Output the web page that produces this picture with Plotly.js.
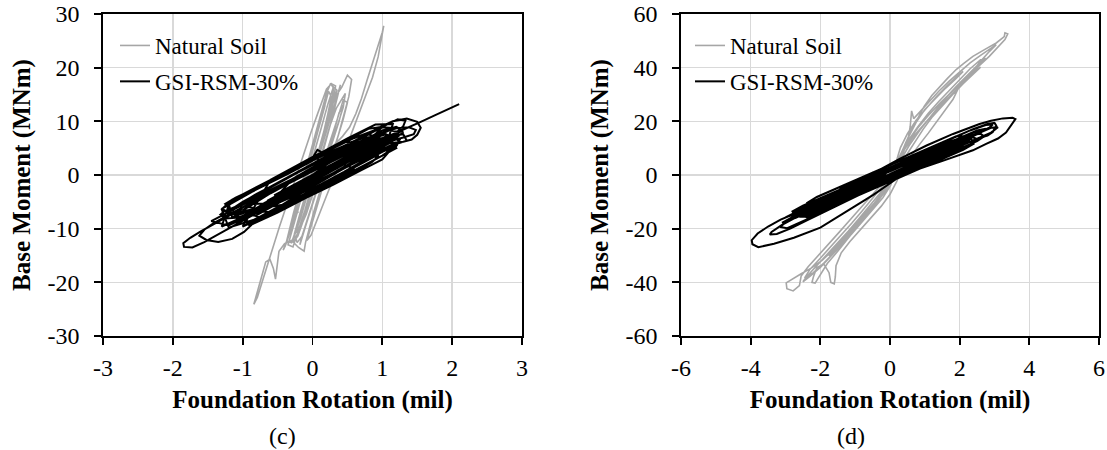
<!DOCTYPE html>
<html>
<head>
<meta charset="utf-8">
<script src="https://cdn.plot.ly/plotly-3.0.1.min.js"></script>
<style>
  html, body { margin: 0; padding: 0; background: #ffffff; }
  #chart { width: 1107px; height: 450px; }
</style>
</head>
<body>
<div id="chart"></div>
<script>
// ---------- Data (rotation in mil, moment in MNm) ----------
const seriesNames = ["Natural Soil", "GSI-RSM-30%"];
const panelLabels = ["(c)", "(d)"];

// Tick values and labels (hyphen minus as in the original)
const cRotTicks = [-3, -2, -1, 0, 1, 2, 3];
const cRotLabels = ["-3", "-2", "-1", "0", "1", "2", "3"];
const cMomTicks = [-30, -20, -10, 0, 10, 20, 30];
const cMomLabels = ["-30", "-20", "-10", "0", "10", "20", "30"];
const dRotTicks = [-6, -4, -2, 0, 2, 4, 6];
const dRotLabels = ["-6", "-4", "-2", "0", "2", "4", "6"];
const dMomTicks = [-60, -40, -20, 0, 20, 40, 60];
const dMomLabels = ["-60", "-40", "-20", "0", "20", "40", "60"];

// Panel (c) – Natural Soil: [rotation, moment]
const cNatural = [
[0,0],[0.08,3.5],[0.15,7.0],[0.22,10.5],[0.28,13.8],[0.3,16.2],[0.26,17.1],[0.2,15.2],[0.13,11.8],[0.05,8.0],[-0.03,4.2],[-0.11,0.4],[-0.19,-3.4],[-0.27,-7.0],[-0.33,-10.2],[-0.37,-12.3],[-0.3,-12.6],[-0.22,-9.6],[-0.14,-6.0],[-0.06,-2.3],[0.02,1.5],[0.1,5.2],[0.18,8.8],[0.26,12.2],[0.34,14.8],[0.42,16.4],[0.5,18.6],[0.56,17.8],[0.52,14.6],[0.45,11.0],[0.37,7.4],[0.28,3.8],[0.19,0.3],[0.1,-3.3],[0.02,-6.8],[-0.05,-10.2],[-0.1,-12.6],[-0.12,-14.2],[-0.2,-13.5],[-0.3,-12.2],[-0.4,-12.8],[-0.48,-14.2],[-0.5,-16.5],[-0.53,-19.4],[-0.56,-17.4],[-0.61,-15.7],[-0.67,-16.2],[-0.74,-19.6],[-0.8,-22.4],[-0.84,-24.1],[-0.79,-22.8],[-0.72,-19.8],[-0.64,-16.4],[-0.56,-13.0],[-0.47,-9.5],[-0.38,-6.0],[-0.29,-2.4],[-0.2,1.1],[-0.11,4.6],[-0.02,8.0],[0.07,11.3],[0.15,14.2],[0.2,16.0],[0.27,17.0],[0.33,16.6],[0.3,13.8],[0.23,10.2],[0.15,6.5],[0.07,2.8],[-0.01,-0.9],[-0.09,-4.5],[-0.17,-8.0],[-0.25,-11.0],[-0.28,-12.6],[-0.21,-11.4],[-0.11,-7.8],[-0.01,-4.0],[0.09,-0.3],[0.2,3.1],[0.31,5.6],[0.43,7.2],[0.53,8.9],[0.62,11.4],[0.7,14.2],[0.78,17.6],[0.86,20.8],[0.94,24.2],[1.0,26.6],[1.02,27.8],[0.99,25.4],[0.94,22.0],[0.86,18.2],[0.76,14.6],[0.65,11.0],[0.56,7.8],[0.47,4.6],[0.37,1.6],[0.27,-1.6],[0.17,-4.9],[0.07,-8.2],[-0.02,-11.2],[-0.08,-12.2],[-0.04,-10.4],[0.04,-7.0],[0.12,-3.4],[0.2,0.2],[0.28,3.6],[0.36,7.0],[0.44,10.4],[0.5,13.5],[0.44,14.0],[0.36,10.6],[0.27,7.0],[0.18,3.4],[0.09,-0.2],[0.0,-3.8],[-0.09,-7.3],[-0.18,-10.0],[-0.23,-10.8],[-0.15,-8.6],[-0.06,-5.0],[0.03,-1.3],[0.11,2.4],[0.19,6.0],[0.26,9.6],[0.32,12.6],[0.38,15.4],[0.4,16.8],[0.36,15.0],[0.28,11.6],[0.19,7.9],[0.1,4.2],[0.02,0.6],[-0.06,-3.0],
[0.05,1.5],[0.15,6.0],[0.24,10.5],[0.3,13.6],[0.35,15.8],[0.3,16.4],[0.22,13.2],[0.13,9.0],[0.04,4.8],[-0.05,0.6],[-0.14,-3.6],[-0.23,-7.6],[-0.3,-10.8],[-0.35,-13.0],[-0.28,-13.4],[-0.2,-10.4],[-0.11,-6.6],[-0.02,-2.6],[0.07,1.4],[0.16,5.4],[0.25,9.2],[0.34,12.4],[0.42,14.0],[0.47,15.2],[0.44,12.6],[0.36,9.2],[0.27,5.6],[0.18,2.0],[0.09,-1.6],[0.0,-5.2],[-0.09,-8.8],[-0.16,-11.8],[-0.18,-13.0],[-0.12,-10.6],[-0.04,-7.0],[0.05,-3.2],[0.14,0.6],[0.23,4.4],[0.31,8.2],[0.38,11.6],[0.44,13.0],[0.38,10.0],[0.29,6.4],[0.2,2.8],[0.11,-0.8],[0.02,-4.6],[-0.07,-8.4],[-0.14,-11.2],[-0.22,-12.6],[-0.26,-11.0],[-0.18,-7.2],[-0.1,-3.4],[-0.01,0.4],[0.08,4.2],[0.16,8.0],[0.22,11.4],[0.27,14.6],[0.23,15.6],[0.17,12.6],[0.09,8.6],[0.0,4.6],[-0.08,0.6],[-0.16,-3.4],[-0.25,-7.4],[-0.32,-10.6],[-0.39,-13.2],[-0.42,-14.0],[-0.36,-12.0],[-0.28,-8.4],[-0.2,-4.6],[-0.12,-0.8],[-0.04,3.0],[0.04,6.8],[0.12,10.4],[0.18,13.0],[0.14,11.6],[0.06,7.6],[-0.02,3.6],[-0.1,-0.4],[-0.18,-4.2],[-0.24,-7.4],[-0.2,-6.8]
];

// Panel (c) – GSI-RSM-30%: [rotation, moment]
const cGsi = [
[0,0],[0.25,2.4],[0.5,4.1],[0.75,5.6],[0.9,6.5],[0.97,7.3],[0.85,7.2],[0.6,5.8],[0.35,4.0],[0.1,2.1],[-0.15,0.3],[-0.4,-1.6],[-0.65,-3.4],[-0.85,-4.9],[-1.0,-6.0],[-1.05,-6.9],[-0.9,-6.9],[-0.65,-5.6],[-0.4,-3.9],[-0.15,-2.0],[0.1,-0.2],[0.35,1.7],[0.6,3.5],[0.85,5.2],[1.05,6.6],[1.2,7.9],[1.3,9.1],[1.33,10.1],[1.22,10.4],[1.05,9.3],[0.85,7.9],[0.6,6.3],[0.35,4.5],[0.1,2.7],[-0.15,0.9],[-0.4,-0.9],[-0.65,-2.6],[-0.9,-4.4],[-1.1,-5.9],[-1.22,-6.6],[-1.27,-6.8],[-1.32,-7.4],[-1.25,-8.1],[-1.05,-7.9],[-0.8,-6.4],[-0.55,-4.7],[-0.3,-3.0],[-0.05,-1.2],[0.2,0.6],[0.45,2.4],[0.7,4.1],[0.95,5.7],[1.15,6.4],[1.3,7.0],[1.45,7.6],[1.48,8.4],[1.38,8.9],[1.2,8.7],[1.0,7.9],[0.75,6.3],[0.5,4.6],[0.25,2.9],[0.0,1.1],[-0.25,-0.7],[-0.5,-2.5],[-0.75,-4.2],[-1.0,-6.1],[-1.2,-7.6],[-1.4,-9.0],[-1.6,-10.5],[-1.75,-11.7],[-1.85,-12.7],[-1.84,-13.4],[-1.72,-13.5],[-1.55,-12.5],[-1.35,-11.1],[-1.15,-9.6],[-0.9,-7.8],[-0.65,-6.0],[-0.4,-4.2],[-0.15,-2.4],[0.1,-0.6],[0.35,1.2],[0.6,3.0],[0.85,4.8],[1.05,6.3],[1.2,7.4],[1.28,8.4],[1.2,9.0],[1.0,8.3],[0.8,6.9],[0.55,5.1],[0.3,3.4],[0.12,2.5],[0.02,3.6],[0.07,4.7],[0.15,4.1],[0.2,3.0],[0.05,1.6],[-0.2,-0.3],[-0.45,-2.1],[-0.7,-3.8],[-0.95,-5.6],[-1.2,-7.4],[-1.42,-9.0],[-1.55,-10.2],[-1.62,-11.3],[-1.52,-12.1],[-1.35,-12.5],[-1.15,-11.9],[-0.98,-10.6],[-0.85,-9.0],[-0.65,-7.3],[-0.4,-5.3],[-0.15,-3.3],[0.1,-1.4],[0.35,0.5],[0.6,2.4],[0.85,4.2],[1.1,5.9],[1.3,6.2],[1.42,6.6],[1.5,7.5],[1.55,8.8],[1.5,9.9],[1.35,10.5],[1.15,10.0],[0.95,8.8],[0.7,7.1],[0.45,5.3],[0.2,3.5],[-0.05,1.7],[-0.3,-0.1],[-0.55,-1.9],[-0.8,-3.6],[-1.0,-5.0],[-1.15,-6.3],[-1.1,-7.3],[-0.9,-6.8],[-0.65,-5.2],[-0.4,-3.5],[-0.15,-1.7],[0.1,0.1],[0.35,1.9],[0.6,3.6],[0.8,5.0],[0.95,6.3],[0.8,6.4],[0.55,4.8],[0.3,3.1],[0.05,1.3],[-0.2,-0.5],[-0.45,-2.3],[-0.7,-4.1],[-0.85,-5.4],[-0.7,-5.3],[-0.45,-3.6],[-0.2,-1.8],
[-0.8,-7.5],[-0.4,-4.6],[0,-1.9],[0.4,0.9],[0.8,3.8],[0.85,5.0],[0.6,5.2],[0.2,2.6],[-0.2,-0.2],[-0.6,-2.9],[-0.85,-4.6],[-0.9,-6.0],
[-0.7,-6.5],[-0.3,-4.0],[0.1,-1.2],[0.5,1.6],[0.9,4.3],[1.1,6.0],[1.05,7.6],[0.7,6.2],[0.3,3.8],[-0.1,1.2],[-0.5,-1.4],[-0.8,-3.5],[-1.0,-5.1],
[-1.1,-8.8],[-0.7,-6.6],[-0.3,-3.9],[0.1,-1.1],[0.5,1.9],[0.9,4.9],[1.2,7.3],[1.25,8.7],[1.0,8.9],[0.6,6.9],[0.2,4.4],[-0.2,1.8],[-0.6,-0.9],[-1.0,-3.6],[-1.2,-5.3],
[-1.15,-7.9],[-0.75,-5.9],[-0.35,-3.2],[0.05,-0.5],[0.45,2.4],[0.85,5.5],[1.1,7.4],[1.15,9.5],[0.9,9.4],[0.5,6.8],[0.1,4.0],[-0.3,1.0],[-0.7,-1.9],[-1.05,-4.4],[-1.3,-6.3],
[-0.9,-8.8],[-0.5,-6.0],[-0.1,-3.6],[0.3,-0.6],[0.7,2.2],[1.0,4.3],[1.2,5.5],[1.1,6.5],[0.8,6.0],[0.4,3.4],[0.0,0.7],[-0.4,-2.0],[-0.8,-4.8],[-1.0,-6.6],
[-0.6,-6.9],[-0.2,-4.1],[0.2,-1.5],[0.6,1.4],[0.9,3.5],[0.75,4.3],[0.35,2.0],[-0.05,-0.6],[-0.45,-3.3],[-0.65,-4.8],
[-0.5,-4.5],[-0.1,-1.4],[0.3,1.5],[0.7,4.3],[0.95,6.8],[0.8,7.6],[0.45,5.4],[0.05,3.0],[-0.35,0.2],[-0.75,-2.4],[-1.05,-4.3],[-1.2,-5.6],
[-1.3,-9.6],[-0.9,-7.3],[-0.5,-4.6],[-0.1,-1.8],[0.3,1.0],[0.7,3.8],[1.0,5.4],[1.2,6.9],[1.3,8.0],[1.1,8.3],[0.7,5.9],[0.3,3.2],[-0.1,0.5],[-0.5,-2.2],[-0.9,-5.0],[-1.25,-7.4],[-1.45,-8.6],
[-1.2,-9.4],[-0.8,-6.9],[-0.4,-4.4],[0.0,-1.6],[0.4,0.9],[0.8,3.4],[1.1,5.4],[1.25,6.1],[1.18,7.0],[0.9,6.8],[0.5,4.8],[0.1,2.0],[-0.3,-0.8],[-0.7,-3.4],[-1.1,-6.0],[-1.25,-7.2],
[-0.4,-5.5],[0.0,-2.8],[0.4,-0.1],[0.6,1.2],[0.4,2.2],[0.0,-0.4],[-0.4,-3.0],[-0.55,-4.5],
[-0.3,-1.0],[0.1,1.6],[0.5,4.4],[0.65,6.0],[0.45,6.2],[0.05,3.7],[-0.35,0.8],[-0.6,-0.9],
[-1.0,-9.6],[-0.6,-7.2],[-0.2,-4.6],[0.2,-2.0],[0.6,0.8],[1.0,3.6],[1.2,5.4],[1.25,6.6],[1.05,7.6],[0.7,6.8],[0.3,4.6],[-0.1,2.2],[-0.5,-0.4],[-0.9,-3.0],[-1.15,-4.6],[-1.3,-6.4],
[-1.2,-9.8],[-0.85,-8.4],[-0.45,-5.9],[-0.05,-3.3],[0.35,-0.8],[0.75,1.9],[1.05,4.0],[1.2,5.0],[1.15,6.0],[0.85,5.6],[0.45,3.6],[0.05,1.0],[-0.35,-1.6],[-0.75,-4.4],[-1.0,-6.6],
[-0.6,-3.4],[-0.2,-0.6],[0.2,2.4],[0.6,5.1],[0.9,7.6],[1.0,9.0],[0.8,8.6],[0.4,5.8],[0.0,3.2],[-0.4,0.4],[-0.8,-2.4],[-1.1,-4.2],[-1.25,-5.4],
[-0.9,-9.4],[-0.5,-7.0],[-0.1,-4.3],[0.3,-1.8],[0.7,0.9],[1.0,2.9],[1.1,4.4],[0.9,5.0],[0.5,2.6],[0.1,0.0],[-0.3,-2.8],[-0.7,-5.4],[-0.95,-7.2],
[-0.7,-8.0],[-0.3,-5.6],[0.1,-3.0],[0.5,-0.2],[0.85,2.4],[0.95,3.6],[0.7,3.0],[0.3,0.4],[-0.1,-2.3],[-0.5,-5.0],[-0.8,-7.0],
[-0.35,-4.4],[0.05,-2.2],[0.45,0.6],[0.8,3.2],[1.15,5.6],[1.35,6.4],[1.3,7.6],[1.05,7.2],[0.65,4.6],[0.25,1.8],[-0.15,-1.0],[-0.55,-3.8],
[-0.2,-1.8],[0.05,0.0],[0.3,1.8],[0.55,3.6],[0.75,5.1],[0.95,6.5],[1.15,7.6],[1.35,8.7],[1.55,9.9],[1.75,11.1],[1.9,12.0],[2.0,12.6],[2.1,13.2]
];

// Panel (d) – Natural Soil: [rotation, moment]
const dNatural = [
[0,0],[0.15,3.5],[0.35,8.2],[0.55,12.8],[0.8,17.6],[1.1,22.2],[1.45,27.0],[1.8,31.4],[2.15,35.8],[2.5,40.0],[2.85,44.2],[3.1,47.6],[3.3,50.5],[3.38,52.6],[3.3,53.0],[3.28,51.6],[3.05,49.2],[2.75,47.0],[2.38,44.2],[2.1,41.4],[1.9,39.3],[1.65,36.0],[1.43,33.0],[1.2,29.6],[0.98,25.6],[0.8,21.4],[0.62,16.8],[0.45,12.0],[0.3,7.2],[0.15,2.6],[0.0,-2.0],[-0.2,-6.2],[-0.45,-10.4],[-0.75,-14.8],[-1.05,-19.4],[-1.35,-24.0],[-1.65,-28.2],[-1.95,-31.8],[-2.25,-34.6],[-2.55,-36.8],[-2.8,-38.6],[-2.98,-40.2],[-2.96,-42.4],[-2.78,-43.2],[-2.6,-41.2],[-2.55,-37.6],[-2.35,-34.2],[-2.05,-30.0],[-1.75,-25.6],[-1.45,-21.2],[-1.15,-16.8],[-0.85,-12.4],[-0.55,-8.2],[-0.25,-3.8],[0.05,0.8],[0.3,6.0],[0.5,12.0],[0.58,18.0],[0.6,22.0],[0.62,23.9],[0.68,21.0],[0.85,23.4],[1.1,27.2],[1.4,31.2],[1.7,35.0],[2.0,38.4],[2.3,41.8],[2.6,44.6],[2.9,47.2],[3.05,48.6],[2.85,46.0],[2.55,41.6],[2.38,38.6],[2.2,36.0],[1.95,32.0],[1.81,28.2],[1.6,24.4],[1.33,19.6],[1.1,15.6],[0.86,11.6],[0.6,7.0],[0.35,2.6],[0.19,-2.5],[0.0,-7.2],[-0.25,-11.6],[-0.55,-16.0],[-0.85,-20.4],[-1.15,-24.8],[-1.4,-29.0],[-1.55,-33.8],[-1.57,-38.0],[-1.6,-40.6],[-1.7,-40.0],[-1.75,-36.4],[-1.9,-33.2],[-2.1,-34.5],[-2.2,-38.0],[-2.24,-40.0],[-2.15,-40.3],[-2.0,-37.0],[-1.8,-33.0],[-1.5,-28.4],[-1.2,-23.6],[-0.9,-18.8],[-0.6,-13.8],[-0.3,-8.6],[-0.05,-3.6],[0.2,1.8],[0.45,7.0],[0.7,12.2],[0.95,17.0],[1.2,21.4],[1.5,25.8],[1.8,30.0],[2.1,34.0],[2.4,37.6],[2.6,40.2],[2.45,38.8],[2.15,35.0],[1.85,31.2],[1.55,27.2],[1.25,23.0],[0.95,18.6],[0.65,14.0],[0.4,9.2],[0.2,4.0],[0.05,-1.2],[-0.15,-6.0],[-0.4,-10.6],[-0.7,-15.2],[-1.0,-19.8],[-1.3,-24.4],[-1.6,-28.8],[-1.9,-32.8],[-2.2,-36.4],[-2.45,-38.4],[-2.3,-35.2],[-2.0,-31.0],[-1.7,-26.8],[-1.4,-22.4],[-1.1,-18.0],[-0.8,-13.4],[-0.5,-8.8],[-0.2,-4.0],[0.1,0.8],
[0.3,5.4],[0.55,11.0],[0.85,16.6],[1.2,22.4],[1.55,28.0],[1.9,33.0],[2.2,37.0],[2.5,40.8],[2.75,43.4],[2.6,43.0],[2.3,39.6],[2.0,35.6],[1.7,31.6],[1.4,27.4],[1.1,23.0],[0.8,18.0],[0.5,12.4],[0.3,7.0],[0.15,1.6],[0.02,-3.8],[-0.2,-8.4],[-0.5,-13.0],[-0.8,-17.6],[-1.1,-22.0],[-1.4,-26.2],[-1.7,-30.4],[-2.0,-34.4],[-2.3,-37.8],[-2.5,-39.8],[-2.4,-38.0],[-2.1,-33.8],[-1.8,-29.6],[-1.5,-25.4],[-1.2,-21.0],[-0.9,-16.4],[-0.6,-11.8],[-0.3,-7.0],[-0.05,-2.0],[0.15,3.2],[0.35,9.0],[0.55,14.6],[0.75,19.6],[1.0,24.4],[1.3,28.6],[1.6,32.4],[1.9,36.0],[2.1,38.6],[1.95,37.0],[1.65,33.4],[1.35,29.4],[1.05,25.0],[0.75,20.4],[0.5,15.4],[0.3,10.2],[0.18,5.0],[0.08,-0.6],[-0.1,-5.4],[-0.35,-9.8],[-0.65,-14.2],[-0.95,-18.6],[-1.25,-23.0],[-1.55,-27.2],[-1.75,-30.2],[-1.6,-27.8],[-1.3,-23.4],[-1.0,-19.0],[-0.7,-14.6],[-0.4,-10.0],[-0.15,-5.0],[0.05,0.0]
];

// Panel (d) – GSI-RSM-30%: [rotation, moment]
const dGsi = [
[0,0],[0.5,3.4],[1.0,6.6],[1.5,9.7],[2.0,12.6],[2.5,15.5],[2.85,17.6],[2.95,18.8],[2.75,18.6],[2.3,16.6],[1.8,13.8],[1.3,10.8],[0.8,7.6],[0.3,4.4],[-0.2,1.2],[-0.7,-2.1],[-1.2,-5.4],[-1.7,-8.8],[-2.2,-12.2],[-2.7,-15.7],[-3.1,-18.6],[-3.4,-21.2],[-3.45,-22.2],[-3.25,-22.0],[-2.85,-19.9],[-2.4,-17.0],[-1.9,-13.8],[-1.4,-10.6],[-0.9,-7.4],[-0.4,-4.2],[0.1,-1.0],[0.6,2.2],[1.1,5.3],[1.6,8.3],[2.1,11.2],[2.6,14.0],[2.8,14.7],[2.95,16.0],[3.05,18.4],[3.0,19.4],[2.8,19.0],[2.4,17.2],[1.9,14.4],[1.4,11.4],[0.9,8.3],[0.4,5.2],[-0.1,2.0],[-0.6,-1.3],[-1.1,-4.6],[-1.6,-7.9],[-2.1,-11.3],[-2.6,-14.7],[-3.0,-17.6],[-3.15,-19.4],[-2.95,-19.8],[-2.55,-17.6],[-2.05,-14.6],[-1.55,-11.4],[-1.05,-8.2],[-0.55,-5.0],[-0.05,-1.8],[0.45,1.4],[0.95,4.5],[1.45,7.5],[1.95,10.4],[2.45,13.2],[2.7,14.2],[2.6,15.4],[2.2,14.6],[1.7,11.8],[1.2,8.9],[0.7,5.9],[0.2,2.8],[-0.3,-0.4],[-0.8,-3.6],[-1.3,-6.8],[-1.8,-10.0],[-2.3,-13.4],[-2.6,-15.6],[-2.4,-15.6],[-1.9,-12.6],[-1.4,-9.4],[-0.9,-6.2],[-0.4,-3.0],[0.1,0.2],[0.6,3.3],[1.1,6.3],[1.6,9.2],[2.1,12.0],[2.3,13.4],[2.0,13.0],[1.5,10.2],[1.0,7.2],[0.5,4.1],[0.0,1.6],[-0.48,1.0],[-1.14,-3.7],[-1.9,-8.6],[-2.57,-13.5],[-3.14,-16.6],[-3.5,-19.2],[-3.8,-21.8],[-3.97,-24.3],[-3.95,-25.8],[-3.78,-26.9],[-3.33,-25.6],[-2.76,-23.4],[-2.0,-19.6],[-1.24,-13.6],[-0.48,-7.4],[0.19,-1.4],[0.86,2.4],[1.43,4.9],[2.0,7.4],[2.38,9.2],[2.76,11.6],[3.1,13.6],[3.33,15.8],[3.52,19.0],[3.6,20.8],[3.52,21.3],[3.24,21.1],[2.9,20.2],[2.57,19.0],[1.81,15.3],[1.05,11.0],[0.29,6.1],[-0.2,2.6],[-0.7,-0.9],[-1.2,-4.2],[-1.7,-7.6],[-2.2,-11.0],[-2.5,-13.0],[-2.3,-13.2],[-1.8,-10.4],[-1.3,-7.4],[-0.8,-4.4],[-0.3,-1.4],[0.2,1.8],[0.7,4.8],[1.2,7.8],[1.7,10.6],[2.2,13.4],[2.6,15.8],[2.75,17.2],[2.5,16.6],[2.0,13.8],[1.5,10.8],[1.0,7.8],[0.5,4.8],[0.0,1.8],[-0.5,-1.4],[-1.0,-4.6],[-1.5,-7.8],[-1.9,-10.4],[-1.6,-9.6],[-1.1,-6.4],[-0.6,-3.2],[-0.1,0.0],
[-2.5,-15.4],[-2,-12.6],[-1.5,-9.8],[-1,-7.0],[-0.5,-4.2],[0,-1.4],[0.5,1.4],[1,4.2],[1.5,7.0],[2,9.8],[2.5,12.6],[2.7,14.4],[2.5,16.4],[2,13.8],[1.5,11.0],[1,8.2],[0.5,5.4],[0,2.6],[-0.5,-0.2],[-1,-3.0],[-1.5,-5.8],[-2,-8.6],[-2.5,-11.4],[-2.8,-13.6],
[-2.7,-15.9],[-2.2,-13.0],[-1.7,-10.1],[-1.2,-7.3],[-0.7,-4.4],[-0.2,-1.5],[0.3,1.3],[0.8,4.1],[1.3,6.9],[1.8,9.6],[2.2,12.0],[2.3,13.5],[2.0,13.0],[1.5,10.2],[1.0,7.4],[0.5,4.6],[0.0,1.8],[-0.5,-1.0],[-1.0,-3.8],[-1.5,-6.6],[-2.0,-9.4],[-2.5,-12.2],[-2.8,-14.3],
[-1.8,-11.2],[-1.3,-8.4],[-0.8,-5.6],[-0.3,-2.9],[0.2,0.0],[0.7,2.7],[1.2,5.6],[1.6,8.0],[1.7,9.6],[1.4,9.2],[0.9,6.4],[0.4,3.6],[-0.1,0.9],[-0.6,-1.9],[-1.1,-4.6],[-1.6,-7.4],[-1.9,-9.2],
[-3.1,-17.8],[-2.6,-15.0],[-2.1,-12.2],[-1.6,-9.4],[-1.1,-6.6],[-0.6,-3.8],[-0.1,-1.0],[0.4,1.8],[0.9,4.6],[1.4,7.4],[1.9,10.2],[2.4,13.0],[2.9,15.8],[3.1,17.8],[2.9,17.6],[2.4,14.8],[1.9,12.0],[1.4,9.2],[0.9,6.4],[0.4,3.6],[-0.1,0.8],[-0.6,-2.0],[-1.1,-4.8],[-1.6,-7.6],[-2.1,-10.4],[-2.6,-13.2],[-3.0,-15.8],
[-1.2,-8.1],[-0.7,-5.3],[-0.2,-2.5],[0.3,0.3],[0.8,3.1],[1.3,5.9],[1.8,8.7],[2.1,10.8],[2.0,13.6],[1.6,12.0],[1.1,9.0],[0.6,6.2],[0.1,3.4],[-0.4,0.6],[-0.9,-2.2],[-1.4,-5.0],[-1.6,-7.0],
[-1.0,-6.6],[-0.5,-3.8],[0.0,-0.9],[0.5,1.9],[1.0,4.7],[1.2,6.9],[1.0,7.7],[0.5,4.9],[0.0,2.1],[-0.5,-0.7],[-1.0,-3.5],[-1.2,-5.1],
[-2.2,-14.6],[-1.7,-11.7],[-1.2,-8.6],[-0.7,-5.9],[-0.2,-3.0],[0.3,0.0],[0.8,2.6],[1.3,5.4],[1.8,8.3],[2.3,11.4],[2.5,13.4],[2.3,14.4],[1.8,11.8],[1.3,9.4],[0.8,6.6],[0.3,3.8],[-0.2,1.0],[-0.7,-1.8],[-1.2,-4.6],[-1.7,-7.4],[-2.1,-9.8],[-2.3,-11.8],
[-2.4,-16.0],[-1.9,-13.2],[-1.4,-10.4],[-0.9,-7.6],[-0.4,-4.8],[0.1,-2.0],[0.6,0.8],[1.1,3.6],[1.6,6.4],[2.1,9.4],[2.4,11.6],[2.3,14.4],[1.9,14.4],[1.4,11.6],[0.9,8.8],[0.4,6.0],[-0.1,3.2],[-0.6,0.4],[-1.1,-2.4],[-1.6,-5.2],[-2.1,-8.2],[-2.4,-10.6]
];

// ---------- Styling ----------
const SERIF = "Liberation Serif, Times New Roman, serif";
const GRAY = "#a6a6a6";
const BLACK = "#000000";
const GRID = "#d9d9d9";
const W = 1107, H = 450;

function xs(arr) { return arr.map(p => p[0]); }
function ys(arr) { return arr.map(p => p[1]); }

const traces = [
  { x: xs(cNatural), y: ys(cNatural), type: "scatter", mode: "lines", name: seriesNames[0],
    line: { color: GRAY, width: 1.6 }, xaxis: "x", yaxis: "y", legend: "legend", legendgroup: "a" },
  { x: xs(cGsi), y: ys(cGsi), type: "scatter", mode: "lines", name: seriesNames[1],
    line: { color: BLACK, width: 2.0 }, xaxis: "x", yaxis: "y", legend: "legend", legendgroup: "b" },
  { x: xs(dNatural), y: ys(dNatural), type: "scatter", mode: "lines", name: seriesNames[0],
    line: { color: GRAY, width: 1.6 }, xaxis: "x2", yaxis: "y2", legend: "legend2", legendgroup: "c" },
  { x: xs(dGsi), y: ys(dGsi), type: "scatter", mode: "lines", name: seriesNames[1],
    line: { color: BLACK, width: 2.0 }, xaxis: "x2", yaxis: "y2", legend: "legend2", legendgroup: "d" }
];

const tickFont = { family: SERIF, size: 24, color: "#000" };
const titleFont = { family: SERIF, size: 25, color: "#000", weight: "bold" };

function baseAxis(domain, range, tickvals, ticktext, anchor) {
  return {
    domain: domain, range: range, anchor: anchor,
    tickmode: "array", tickvals: tickvals, ticktext: ticktext,
    showgrid: true, gridcolor: GRID, gridwidth: 1.5, zeroline: false,
    showline: true, linecolor: "#000", linewidth: 1.8, mirror: true,
    ticks: "outside", ticklen: 7, tickwidth: 1.8, tickcolor: "#000",
    tickfont: tickFont, ticklabeloverflow: "allow",
    fixedrange: true
  };
}
function xAxis(domain, range, tv, tt, anchor) {
  const a = baseAxis(domain, range, tv, tt, anchor);
  a.ticklabelstandoff = 2;
  a.title = { text: "Foundation Rotation (mil)", font: titleFont, standoff: 11 };
  return a;
}
function yAxis(domain, range, tv, tt, anchor) {
  const a = baseAxis(domain, range, tv, tt, anchor);
  a.ticklabelstandoff = 10;
  a.title = { text: "Base Moment (MNm)", font: titleFont, standoff: 10 };
  return a;
}

const yDom = [1 - 336 / H, 1 - 14 / H];
const legendCommon = {
  font: { family: SERIF, size: 23, color: "#000" },
  bgcolor: "rgba(0,0,0,0)", borderwidth: 0,
  xanchor: "left", yanchor: "top",
  traceorder: "grouped", tracegroupgap: 3
};

const layout = {
  width: W, height: H,
  margin: { l: 0, r: 0, t: 0, b: 0, pad: 0 },
  paper_bgcolor: "#ffffff", plot_bgcolor: "#ffffff",
  font: { family: SERIF, color: "#000" },
  xaxis: xAxis([103 / W, 522 / W], [-3, 3], cRotTicks, cRotLabels, "y"),
  yaxis: yAxis(yDom, [-30, 30], cMomTicks, cMomLabels, "x"),
  xaxis2: xAxis([681 / W, 1099 / W], [-6, 6], dRotTicks, dRotLabels, "y2"),
  yaxis2: yAxis(yDom, [-60, 60], dMomTicks, dMomLabels, "x2"),
  legend: Object.assign({ x: 115 / W, y: 1 - 24 / H }, legendCommon),
  legend2: Object.assign({ x: 690 / W, y: 1 - 24 / H }, legendCommon),
  showlegend: true,
  annotations: [
    { text: panelLabels[0], xref: "paper", yref: "paper", x: 282 / W, y: 1 - 436 / H,
      xanchor: "center", yanchor: "middle", showarrow: false, font: { family: SERIF, size: 24, color: "#000" } },
    { text: panelLabels[1], xref: "paper", yref: "paper", x: 851 / W, y: 1 - 436 / H,
      xanchor: "center", yanchor: "middle", showarrow: false, font: { family: SERIF, size: 24, color: "#000" } }
  ]
};

Plotly.newPlot("chart", traces, layout, { displayModeBar: false, staticPlot: true });
</script>
</body>
</html>
